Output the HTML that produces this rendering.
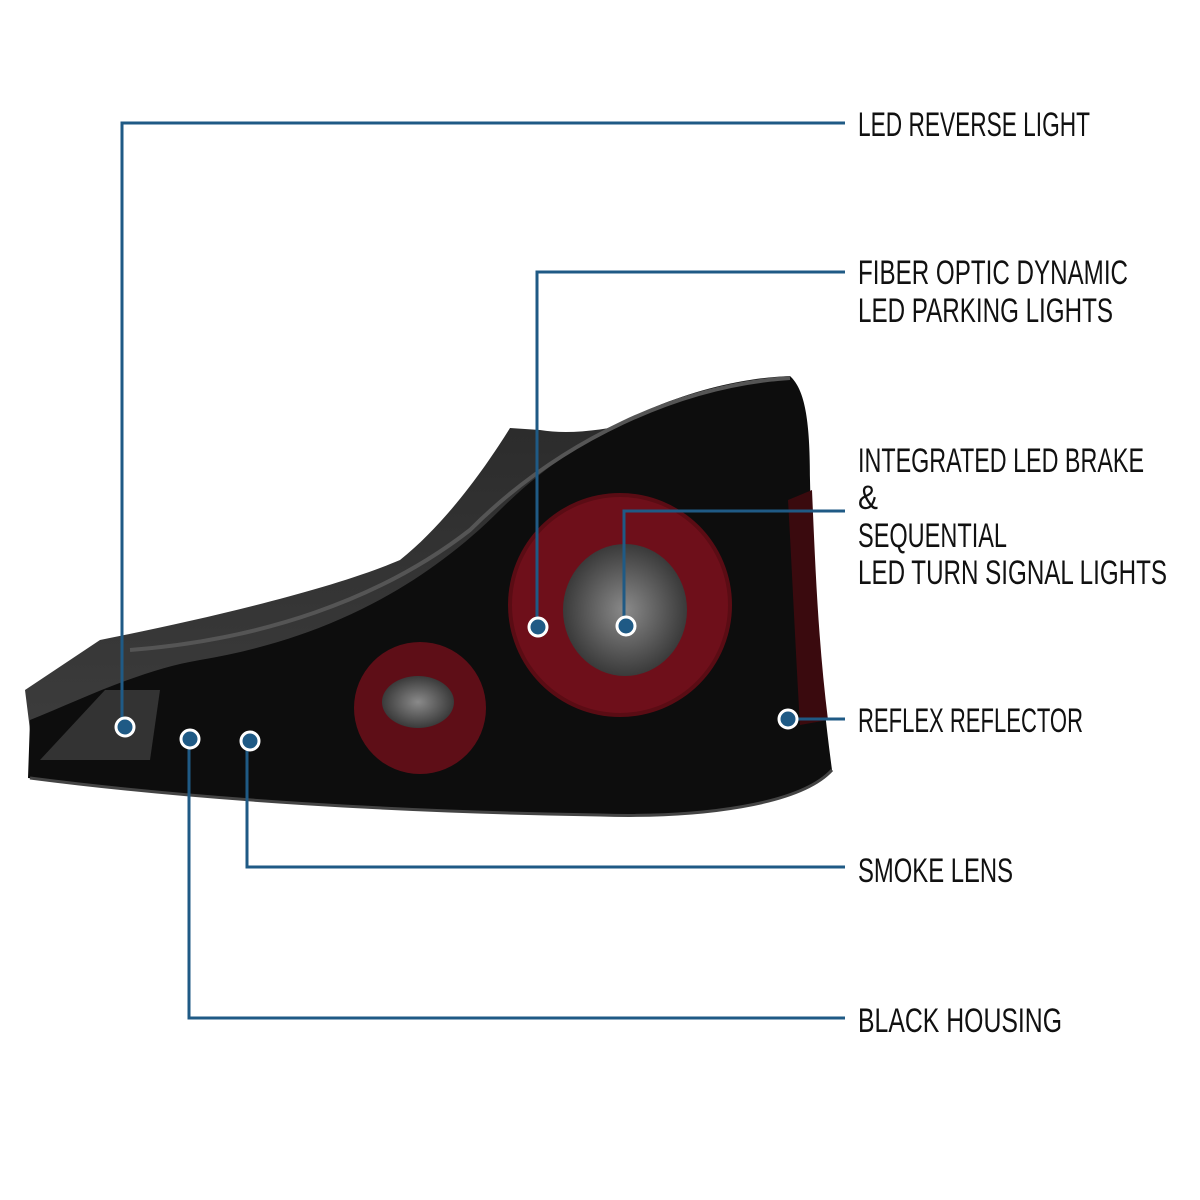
<!DOCTYPE html>
<html><head><meta charset="utf-8"><style>
html,body{margin:0;padding:0;background:#fff;}
svg{display:block}
text{font-family:"Liberation Sans",sans-serif;font-size:34px;fill:#111;}
</style></head><body>
<svg width="1200" height="1200" viewBox="0 0 1200 1200" xmlns="http://www.w3.org/2000/svg">
<defs>
<radialGradient id="g1" cx="50%" cy="50%" r="50%"><stop offset="0" stop-color="#8a8a8a"/><stop offset="1" stop-color="#3a3a3a"/></radialGradient>
<linearGradient id="top" x1="0" y1="0" x2="0" y2="1"><stop offset="0" stop-color="#2a2a2a"/><stop offset="1" stop-color="#3c3c3c"/></linearGradient>
</defs>
<path d="M25,690 L100,640 C200,620 330,590 400,560 C450,520 490,460 510,428 L540,430 C600,440 680,410 760,390 L700,480 L200,720 L30,730 Z" fill="url(#top)"/>
<path d="M30,720 C80,700 140,670 200,660 C320,640 420,590 500,510 C580,430 690,380 790,376 C805,390 810,420 810,480 C812,580 820,680 832,770 C800,805 700,818 600,815 C400,812 200,800 28,778 Z" fill="#0d0d0d"/>
<path d="M130,650 C260,640 380,600 470,530 C560,440 680,385 790,378" fill="none" stroke="#555" stroke-width="4"/>
<path d="M30,778 C200,800 400,812 600,815 C700,818 800,805 832,770" fill="none" stroke="#444" stroke-width="3"/>
<path d="M788,500 L812,490 C815,560 818,640 828,720 L800,725 C795,640 792,570 788,500 Z" fill="#3a0a0e"/>
<path d="M40,760 L105,690 L160,690 L150,760 Z" fill="#333"/>
<circle cx="620" cy="605" r="112" fill="#5a0c14"/>
<circle cx="620" cy="605" r="108" fill="#6e0f1a"/>
<ellipse cx="625" cy="610" rx="62" ry="66" fill="url(#g1)"/>
<circle cx="420" cy="708" r="66" fill="#5e0e17"/>
<ellipse cx="418" cy="702" rx="36" ry="26" fill="url(#g1)"/>
<g stroke="#1f5a85" stroke-width="3" fill="none">
<polyline points="122,727 122,123 845,123"/>
<polyline points="537,627 537,272 845,272"/>
<polyline points="624,626 624,511 845,511"/>
<polyline points="788,719 845,719"/>
<polyline points="247,741 247,867 845,867"/>
<polyline points="189,739 189,1018 845,1018"/>
</g>
<g fill="#1f5a85" stroke="#fff" stroke-width="3">
<circle cx="125" cy="727" r="9"/>
<circle cx="538" cy="627" r="9"/>
<circle cx="626" cy="626" r="9"/>
<circle cx="788" cy="719" r="9"/>
<circle cx="250" cy="741" r="9"/>
<circle cx="190" cy="739" r="9"/>
</g>
<text x="858" y="136" textLength="232" lengthAdjust="spacingAndGlyphs">LED REVERSE LIGHT</text>
<text x="858" y="284" textLength="270" lengthAdjust="spacingAndGlyphs">FIBER OPTIC DYNAMIC</text>
<text x="858" y="322" textLength="255" lengthAdjust="spacingAndGlyphs">LED PARKING LIGHTS</text>
<text x="858" y="472" textLength="286" lengthAdjust="spacingAndGlyphs">INTEGRATED LED BRAKE</text>
<text x="858" y="509" textLength="20" lengthAdjust="spacingAndGlyphs">&amp;</text>
<text x="858" y="547" textLength="149" lengthAdjust="spacingAndGlyphs">SEQUENTIAL</text>
<text x="858" y="584" textLength="309" lengthAdjust="spacingAndGlyphs">LED TURN SIGNAL LIGHTS</text>
<text x="858" y="732" textLength="225" lengthAdjust="spacingAndGlyphs">REFLEX REFLECTOR</text>
<text x="858" y="882" textLength="155" lengthAdjust="spacingAndGlyphs">SMOKE LENS</text>
<text x="858" y="1032" textLength="204" lengthAdjust="spacingAndGlyphs">BLACK HOUSING</text>
</svg>
</body></html>
